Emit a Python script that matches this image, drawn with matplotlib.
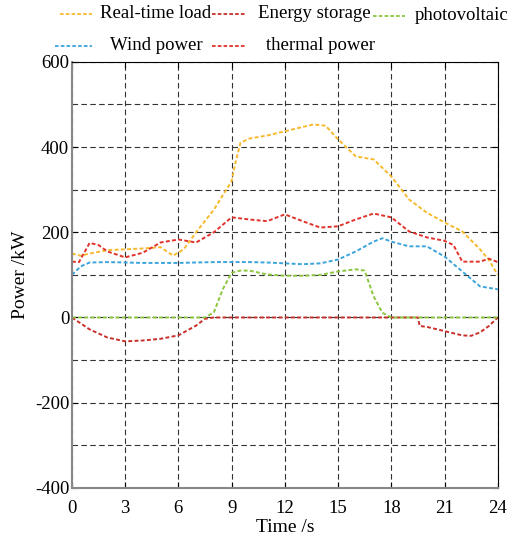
import numpy as np
import matplotlib.pyplot as plt
from matplotlib.lines import Line2D

plt.rcParams['font.family'] = ['Liberation Serif', 'DejaVu Serif']
plt.rcParams['axes.unicode_minus'] = False

# data (hour, kW)
t_load = [0, 0.5, 1, 2, 3, 4, 5, 5.7, 6.3, 7, 8, 9, 9.2, 9.5, 10, 11, 12, 13, 13.6, 14.3, 15, 16, 17, 18, 19, 20, 21, 22, 23, 23.5, 24]
load = [150, 145, 150, 158, 160, 162, 165, 145, 160, 200, 253, 320, 360, 410, 420, 427, 437, 447, 453, 450, 418, 378, 371, 331, 277, 246, 223, 202, 160, 135, 100]

t_storage = [0, 1, 2, 3, 4, 5, 6, 7, 7.5, 8, 19.5, 19.6, 20, 21, 22, 22.5, 23, 23.5, 24]
storage = [0, -28, -47, -56, -54, -50, -42, -19, -3, 0, 0, -20, -22, -32, -42, -43, -35, -20, 0]

t_pv = [0, 7.5, 8, 8.5, 9, 9.5, 10, 11, 12, 13, 14, 15, 16, 16.5, 17, 17.5, 18, 24]
pv = [0, 0, 12, 66, 105, 110, 110, 101, 98, 98, 100, 108, 113, 110, 50, 11, 0, 0]

t_wind = [0, 0.5, 1, 2, 3, 4, 5, 6, 7, 8, 9, 10, 11, 12, 13, 14, 15, 16, 17, 17.5, 18, 19, 20, 21, 22, 23, 24]
wind = [100, 120, 129, 130, 129, 128, 128, 128, 129, 130, 130, 130, 129, 127, 125, 127, 136, 155, 178, 186, 178, 167, 167, 143, 108, 73, 66]

t_thermal = [0, 0.4, 1, 1.5, 2, 3, 4, 5, 6, 7, 8, 9, 10, 11, 12, 13, 14, 15, 16, 17, 18, 19, 20, 21, 21.5, 22, 23, 23.5, 24]
thermal = [131, 130, 175, 170, 155, 141, 152, 176, 183, 176, 200, 235, 230, 226, 242, 226, 211, 214, 230, 244, 235, 202, 188, 180, 170, 131, 131, 138, 130]

x_ticks = [0, 3, 6, 9, 12, 15, 18, 21, 24]
y_ticks = [-400, -200, 0, 200, 400, 600]

W, H = 510, 547
fig = plt.figure(figsize=(W / 100, H / 100), dpi=100)
ax = fig.add_axes([0.141, 0.108, 0.835, 0.779])

ls = (0, (2, 1.2))
series = [
    (t_load, load, '#F7B92D', 'Real-time load'),
    (t_wind, wind, '#3AA4DC', 'Wind power'),
    (t_storage, storage, '#C8302B', 'Energy storage'),
    (t_thermal, thermal, '#E0332C', 'thermal power'),
    (t_pv, pv, '#8CC63E', 'photovoltaic'),
]
for tx, ty, c, lab in series:
    ax.plot(tx, ty, color=c, ls=ls, lw=1.4, label=lab)

ax.set_xlim(0, 24)
ax.set_ylim(-400, 600)
ax.set_xticks(x_ticks)
ax.set_yticks(y_ticks)
ax.set_yticks(np.arange(-400, 601, 100), minor=True)
ax.tick_params(which='both', direction='in', top=True, right=True, labelsize=13.5, length=4, pad=2)
ax.tick_params(axis='x', pad=9)
ax.tick_params(which='minor', length=0)
ax.grid(True, which='both', color='#333333', ls=(0, (5, 3)), lw=0.8)

for s in ['left', 'bottom']:
    ax.spines[s].set_color('#888888')
    ax.spines[s].set_linewidth(1.5)

ax.set_xlabel('Time /s', fontsize=14, labelpad=1)
ax.set_ylabel('Power /kW', fontsize=14, labelpad=4)

# legend laid out by hand (two rows, uneven spacing as in the source figure)
legend_items = [
    # (series index, handle x0, handle x1, text x, row y) in pixels
    (0, 60, 92, 100, 14),
    (2, 212, 245, 258, 14),
    (4, 373, 405, 415, 16),
    (1, 55, 92, 110, 46),
    (3, 212, 245, 266, 46),
]
for i, x0, x1, xt, yp in legend_items:
    _, _, c, lab = series[i]
    fy = 1 - yp / H
    fig.add_artist(Line2D([x0 / W, x1 / W], [fy, fy], transform=fig.transFigure,
                          color=c, ls=ls, lw=1.3))
    fig.text(xt / W, fy, lab, fontsize=13.5, va='center', ha='left')

fig.savefig('out.png', dpi=100)
